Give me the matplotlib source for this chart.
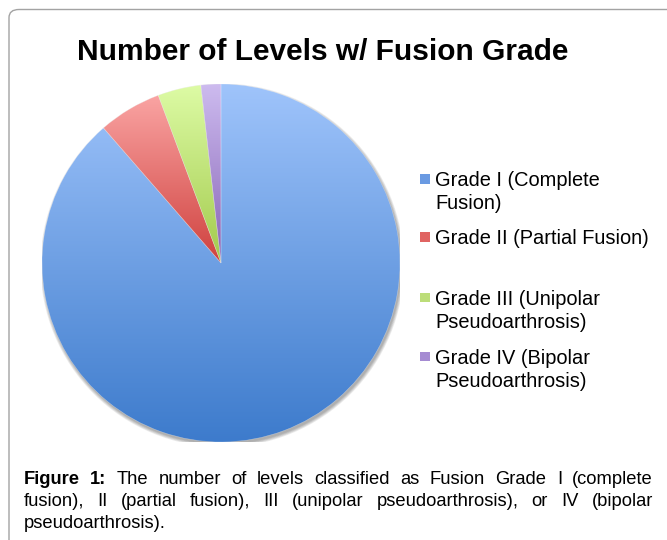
import numpy as np
import matplotlib
matplotlib.use("Agg")
import matplotlib.pyplot as plt
from matplotlib.patches import FancyBboxPatch, Rectangle, Circle
from matplotlib.colors import to_rgb

# ---------------- data ----------------
categories = ["Grade I (Complete Fusion)", "Grade II (Partial Fusion)",
              "Grade III (Unipolar Pseudoarthrosis)", "Grade IV (Bipolar Pseudoarthrosis)"]
values = [88.6, 5.7, 3.9, 1.8]
legend_lines = [["Grade I (Complete", "Fusion)"],
                ["Grade II (Partial Fusion)"],
                ["Grade III (Unipolar", "Pseudoarthrosis)"],
                ["Grade IV (Bipolar", "Pseudoarthrosis)"]]
title = "Number of Levels w/ Fusion Grade"
caption_lines = [
    [("Figure", "bold"), ("1:", "bold"), ("The", "normal"), ("number", "normal"), ("of", "normal"),
     ("levels", "normal"), ("classified", "normal"), ("as", "normal"), ("Fusion", "normal"),
     ("Grade", "normal"), ("I", "normal"), ("(complete", "normal")],
    [(w, "normal") for w in "fusion), II (partial fusion), III (unipolar pseudoarthrosis), or IV (bipolar".split()],
    [("pseudoarthrosis).", "normal")],
]

# ---------------- style ----------------
top_colors = ["#9fc4fb", "#faa4a3", "#ddfba5", "#cdbbef"]
bot_colors = ["#3d7bcc", "#cf413e", "#a2ca4c", "#8764b6"]
mid_colors = ["#6a9ae2", "#e06462", "#bcdd79", "#a58bd2"]
FONT = "Liberation Sans"

W, H = 667, 540
fig = plt.figure(figsize=(W / 100, H / 100), dpi=100)
fig.patch.set_facecolor("white")

def fx(px):
    return px / W

def fy(py):
    return 1 - py / H

# border (rounded, cut at right/bottom)
border = FancyBboxPatch((fx(9), fy(560)), fx(700), (560 - 9.5) / H,
                        boxstyle="round,pad=0,rounding_size=0.015",
                        transform=fig.transFigure, facecolor="none",
                        edgecolor="#a3a3a3", linewidth=1.0, zorder=0)
fig.patches.append(border)

# ---------------- pie ----------------
cx, cy, r = 221, 263, 179
ax = fig.add_axes([fx(cx - r), fy(cy + r), 2 * r / W, 2 * r / H])
ax.set_axis_off()

# soft shadow (down-right)
for i in range(5):
    ax.add_patch(Circle((0.007, -0.013), 1.0 + 0.004 * i, facecolor="#000000",
                        alpha=0.07, edgecolor="none", zorder=0))

wedges, _ = ax.pie(values, startangle=90, counterclock=False, radius=1.0,
                   wedgeprops=dict(linewidth=0.4, edgecolor=(1, 1, 1, 0.35)))
for w, tc, bc in zip(wedges, top_colors, bot_colors):
    ext = w.get_path().get_extents()
    n = 256
    t = np.linspace(0, 1, n)[:, None]
    grad = (1 - t) * np.array(to_rgb(tc)) + t * np.array(to_rgb(bc))
    img = grad[:, None, :]
    im = ax.imshow(img, extent=[ext.x0, ext.x1, ext.y0, ext.y1], origin="upper",
                   aspect="auto", zorder=1, interpolation="bilinear")
    im.set_clip_path(w)
    w.set_facecolor("none")
    w.set_zorder(2)
ax.set_xlim(-1, 1)
ax.set_ylim(-1, 1)
ax.set_aspect("equal")

# ---------------- title ----------------
fig.text(fx(322.5), fy(60), title, ha="center", va="baseline",
         fontsize=21.5, fontweight="bold", family=FONT, color="black")

# ---------------- legend ----------------
first_baselines = [186, 244, 304.7, 363.7]
line_step = 23.4
for lines, base, col in zip(legend_lines, first_baselines, mid_colors):
    fig.patches.append(Rectangle((fx(420), fy(base - 2.5)), 9.5 / W, 9.5 / H,
                                 transform=fig.transFigure, facecolor=col,
                                 edgecolor="none"))
    for k, ln in enumerate(lines):
        fig.text(fx(435), fy(base + k * line_step), ln, ha="left", va="baseline",
                 fontsize=14.4, family=FONT, color="black")

# ---------------- caption (justified) ----------------
renderer = fig.canvas.get_renderer()
x0, x1 = 24, 653
baselines = [484, 506, 528]
for li, (words, base) in enumerate(zip(caption_lines, baselines)):
    texts = []
    for wd, wt in words:
        t = fig.text(0, fy(base), wd, ha="left", va="baseline", fontsize=13.2,
                     fontweight=wt, family=FONT, color="black")
        texts.append(t)
    widths = [t.get_window_extent(renderer).width for t in texts]
    if li < len(caption_lines) - 1 and len(texts) > 1:
        gap = (x1 - x0 - sum(widths)) / (len(texts) - 1)
    else:
        gap = 5.0
    x = x0
    for t, wdt in zip(texts, widths):
        t.set_x(fx(x))
        x += wdt + gap

fig.savefig("out.png", dpi=100, facecolor="white")
